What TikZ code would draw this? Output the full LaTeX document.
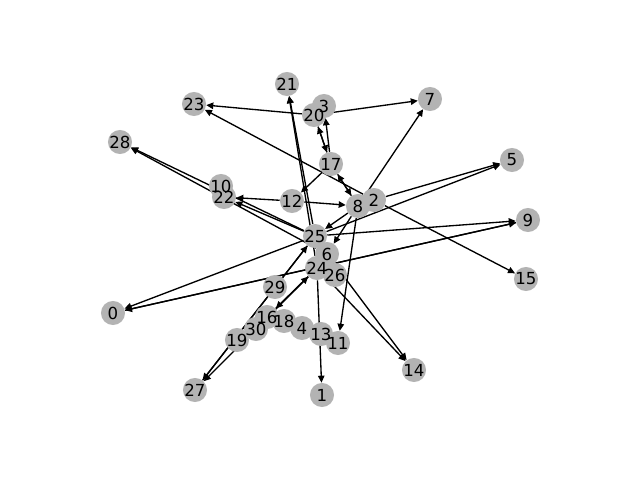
\documentclass[tikz,border=0pt]{standalone}
\usepackage{fontspec}
\setmainfont{DejaVu Sans}
\usepackage{tikz}
\usetikzlibrary{arrows.meta, backgrounds}
\definecolor{nodegray}{RGB}{179,179,179}
\tikzset{
  vertex/.style={circle, fill=nodegray, inner sep=0pt, minimum size=17.1pt},
  vlabel/.style={inner sep=0pt, font=\fontsize{11.8}{12}\selectfont},
  edge/.style={-{Triangle[length=5pt, width=4.6pt]}, line width=0.95pt, color=black}
}

\begin{document}
\begin{tikzpicture}[x=0.025cm, y=-0.025cm]
\useasboundingbox (0,0) rectangle (640,480);

% vertices
\foreach \i/\x/\y in {0/113/313, 1/322/395, 2/374/200, 3/324/106, 4/302/328,
    5/512/160, 6/327/254, 7/430/99, 8/358/206, 9/528/220, 10/221/186,
    11/338/343, 12/292/201, 13/321/334, 14/414/370, 15/526/279, 16/267/317,
    17/331/164, 18/284/321, 19/237/340, 20/314/115, 21/287/84, 22/224/197,
    23/194/104, 24/317/268, 25/315/236, 26/335/275, 27/195/390, 28/120/142,
    29/275/287, 30/256/329}
  \node[vertex] (n\i) at (\x,\y) {};
\foreach \i in {0,...,30}
  \node[vlabel] at (n\i) {\i};

% edges
\begin{pgfonlayer}{background}
\foreach \a/\b in {20/23, 20/7, 2/23, 8/7, 20/17, 17/20, 17/3, 17/8, 8/17,
    17/12, 12/22, 12/8, 25/21, 24/21, 25/22, 25/28, 6/28, 25/0, 0/9, 9/0,
    25/9, 25/5, 2/5, 2/15, 8/11, 8/6, 8/25, 27/25, 25/27, 24/27, 16/24,
    24/16, 24/1, 24/14, 6/14}
  \draw[edge] (n\a) -- (n\b);
\end{pgfonlayer}
\end{tikzpicture}
\end{document}
